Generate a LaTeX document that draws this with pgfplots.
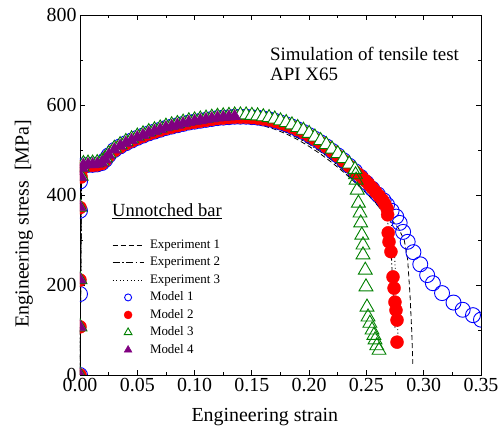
\documentclass[border=0pt]{standalone}
\usepackage{fontspec}
\setmainfont{Liberation Serif}
\usepackage{pgfplots}
\usepackage{pgfplotstable}
\pgfplotsset{compat=1.18}

\definecolor{mblue}{RGB}{0,0,255}
\definecolor{mred}{RGB}{255,0,0}
\definecolor{mgreen}{RGB}{0,128,0}
\definecolor{mpurple}{RGB}{128,0,128}

% shared hardening part of the four models (engineering stress, MPa)
\pgfplotstableread{
x     m1  m2  m3  m4
0.003 466 465 470 467
0.007 467 466 471 468
0.011 467 466 471 468
0.015 468 467 472 469
0.019 471 470 475 472
0.022 478 477 482 479
0.025 488 487 492 489
0.030 500 499 504 501
0.035 508 507 512 509
0.040 515 514 519 516
0.045 521 520 525 522
0.050 527 526 531 528
0.055 532 531 536 533
0.060 537 536 541 538
0.065 541 540 545 542
0.070 545 544 549 546
0.075 549 548 553 550
0.080 552 551 556 553
0.085 555 554 559 556
0.090 558 557 562 559
0.095 561 560 565 562
0.100 563 562 567 564
0.105 565 564 569 566
0.110 567 566 571 568
0.115 569 568 573 570
0.120 571 570 575 572
0.125 572 571 576 573
0.130 573 572 577 574
0.135 574 573 578 575
0.140 574 573 578 575
0.145 574 573 578 575
0.150 573 572 577 574
0.155 572 571 576 573
0.160 570 569 574 571
0.165 568 567 572 569
0.170 565 564 569 566
0.175 561 560 565 562
0.180 557 556 561 558
0.185 552 551 556 553
0.190 546 545 550 547
0.195 540 539 544 541
0.200 533 532 537 534
0.205 525 524 529 526
0.210 517 516 521 518
0.215 508 507 512 509
0.220 498 497 502 499
0.225 488 487 492 489
0.230 477 476 481 478
0.235 465 464 469 466
0.240 453 452 457 454
}\models

\begin{document}
\begin{tikzpicture}
\path[use as bounding box] (-80bp,-58bp) rectangle (423bp,375bp);
\begin{axis}[
    scale only axis,
    width=401bp, height=360bp,
    xmin=0, xmax=0.35, ymin=0, ymax=800,
    xtick={0,0.05,...,0.35}, ytick={0,200,...,800},
    minor x tick num=1, minor y tick num=1,
    xtick pos=both, ytick pos=both,
    tick align=inside,
    major tick length=5bp, minor tick length=3bp,
    axis line style={line width=0.9bp},
    every tick/.style={black, line width=0.8bp},
    /pgf/number format/assume math mode=true,
    ticklabel style={font=\rmfamily\fontsize{20}{22}\selectfont},
    xticklabel style={/pgf/number format/.cd, fixed, fixed zerofill, precision=2},
    yticklabel style={/pgf/number format/.cd, fixed},
    xlabel={Engineering strain},
    ylabel={Engineering stress\ \ [MPa]},
    label style={font=\rmfamily\fontsize{20}{22}\selectfont},
    xlabel style={at={(axis description cs:0.461,-0.128)}, anchor=base},
    ylabel style={at={(axis description cs:-0.1397,0.42)}, anchor=center},
    clip marker paths=true,
    legend image code/.code={\draw[mark repeat=2,mark phase=2,#1] plot coordinates {(0bp,0bp) (15.5bp,0bp) (31bp,0bp)};},
    legend style={at={(axis description cs:0.0798,0.3806)}, anchor=north west,
        draw=none, fill=none, inner sep=0pt, row sep=4bp,
        font=\rmfamily\fontsize{13}{14}\selectfont,
        nodes={inner sep=0.5bp, text height=9.5bp, text depth=3bp},
        /tikz/every odd column/.append style={column sep=5.5bp}},
    legend cell align=left,
]
\addlegendimage{black, line width=0.8bp, dash pattern=on 5bp off 3bp}
\addlegendentry{Experiment 1}
\addlegendimage{black, line width=0.8bp, dash pattern=on 7bp off 2.5bp on 1.5bp off 2.5bp}
\addlegendentry{Experiment 2}
\addlegendimage{black, line width=0.8bp, dash pattern=on 1bp off 2.6bp}
\addlegendentry{Experiment 3}
\addlegendimage{only marks, mark=o, mblue, mark size=3.5bp, mark options={line width=0.9bp}}
\addlegendentry{Model 1}
\addlegendimage{only marks, mark=*, mred, mark size=4bp, mark options={fill=mred, draw=mred}}
\addlegendentry{Model 2}
\addlegendimage{only marks, mark=triangle, mgreen, mark size=4.5bp, mark options={line width=0.9bp}}
\addlegendentry{Model 3}
\addlegendimage{only marks, mark=triangle*, mpurple, mark size=4.5bp, mark options={fill=mpurple, draw=mpurple}}
\addlegendentry{Model 4}

% experiments
\addplot[forget plot, black, line width=0.8bp, dash pattern=on 5bp off 3bp] coordinates {
(0,0) (0.0015,455) (0.003,452) (0.006,455) (0.010,458) (0.015,460) (0.020,463)
(0.025,478) (0.030,490) (0.040,505) (0.050,518) (0.060,529) (0.070,538) (0.080,545)
(0.090,551) (0.100,556) (0.110,560) (0.120,562) (0.130,563) (0.140,562) (0.150,559)
(0.160,554) (0.170,546) (0.180,536) (0.190,523) (0.200,508) (0.210,491) (0.220,472)
(0.230,451) (0.240,428) (0.250,404) (0.260,378) (0.270,351) (0.278,326) (0.283,300)
(0.286,256) (0.288,180) (0.2895,100) (0.2905,25)};
\addplot[forget plot, black, line width=0.8bp, dash pattern=on 7bp off 2.5bp on 1.5bp off 2.5bp] coordinates {
(0,0) (0.0015,458) (0.003,455) (0.006,457) (0.010,460) (0.015,462) (0.020,465)
(0.025,480) (0.030,492) (0.040,507) (0.050,520) (0.060,531) (0.070,540) (0.080,547)
(0.090,553) (0.100,558) (0.110,562) (0.120,564) (0.130,565) (0.140,564) (0.150,561)
(0.160,556) (0.170,549) (0.177,543) (0.180,539) (0.190,527) (0.200,513) (0.210,496)
(0.220,477) (0.2296,455) (0.240,430) (0.2557,389) (0.260,376) (0.265,360)
(0.268,345) (0.270,322) (0.2715,290) (0.2725,220) (0.274,150) (0.275,105)};
\addplot[forget plot, black, line width=0.8bp, dash pattern=on 1bp off 2.6bp] coordinates {
(0,0) (0.0015,460) (0.003,457) (0.006,459) (0.010,461) (0.015,463) (0.020,466)
(0.025,482) (0.030,494) (0.040,509) (0.050,521) (0.060,532) (0.070,541) (0.080,548)
(0.090,554) (0.100,559) (0.110,563) (0.120,565) (0.130,566) (0.140,566) (0.150,563)
(0.160,558) (0.170,551) (0.180,541) (0.190,529) (0.200,515) (0.210,498) (0.220,479)
(0.230,458) (0.240,435) (0.250,410) (0.260,383) (0.268,358) (0.272,332)
(0.274,292) (0.2755,220) (0.2765,150) (0.2775,90)};

% model 1
\addplot[forget plot, only marks, mark=o, mblue, mark size=7.5bp, mark options={line width=0.9bp}] coordinates {
(0,0) (0,180) (0,365) (0,430) (0.001,462)};
\addplot[forget plot, only marks, mark=o, mblue, mark size=7.5bp, mark options={line width=0.9bp}] table[x=x, y=m1] {\models};
\addplot[forget plot, only marks, mark=o, mblue, mark size=7.5bp, mark options={line width=0.9bp}] coordinates {
(0.245,440) (0.250,427) (0.255,414) (0.260,401) (0.265,388) (0.268,378) (0.272,365)
(0.276,352) (0.279,338) (0.282,318) (0.286,296) (0.291,273) (0.297,246) (0.303,222)
(0.308,204) (0.316,182) (0.326,161) (0.334,145) (0.343,133) (0.350,123)};

% model 2
\addplot[forget plot, only marks, mark=*, mred, mark size=6.5bp, mark options={fill=mred, draw=mred}] coordinates {
(0,0) (0,107) (0,211) (0,372) (0.001,440) (0.002,458)};
\addplot[forget plot, only marks, mark=*, mred, mark size=6.5bp, mark options={fill=mred, draw=mred}] table[x=x, y=m2] {\models};
\addplot[forget plot, only marks, mark=*, mred, mark size=6.5bp, mark options={fill=mred, draw=mred}] coordinates {
(0.243,446) (0.246,439) (0.249,432) (0.252,424) (0.255,416) (0.258,407) (0.261,398)
(0.264,389) (0.266,380) (0.268,370) (0.2685,356) (0.2690,316) (0.2697,296) (0.2714,274)
(0.2732,218) (0.2741,193) (0.2749,162) (0.2758,144) (0.2767,122) (0.2767,73)};

% model 3
\addplot[forget plot, only marks, mark=triangle*, mgreen, mark size=8bp, mark options={line width=0.9bp, fill=white, draw=mgreen}] coordinates {
(0,0) (0,107) (0,212) (0,373) (0.001,442) (0.002,462)};
\addplot[forget plot, only marks, mark=triangle*, mgreen, mark size=8bp, mark options={line width=0.9bp, fill=white, draw=mgreen}] table[x=x, y=m3] {\models};
\addplot[forget plot, only marks, mark=triangle, mgreen, mark size=8bp, mark options={line width=0.9bp}] coordinates {
(0.2405,445) (0.241,433) (0.242,411) (0.243,382) (0.2444,360) (0.245,338) (0.246,311)
(0.247,289) (0.247,267) (0.249,233) (0.2496,196) (0.2505,151) (0.2514,129) (0.253,115)
(0.2549,100) (0.2565,88) (0.2575,78) (0.259,65) (0.261,55)};

% model 4
\addplot[forget plot, only marks, mark=triangle*, mpurple, mark size=7bp, mark options={fill=mpurple, draw=mpurple}] coordinates {
(0,0) (0,107) (0,212) (0,373) (0.001,440) (0.002,460)};
\addplot[forget plot, only marks, mark=triangle*, mpurple, mark size=7bp, mark options={fill=mpurple, draw=mpurple}, restrict x to domain=0:0.136] table[x=x, y=m4] {\models};

\node[anchor=base west, inner sep=0pt, font=\rmfamily\fontsize{18.6}{20}\selectfont] at (axis description cs:0.0798,0.4389) {\underline{Unnotched bar}};
\node[anchor=base west, inner sep=0pt, font=\rmfamily\fontsize{19}{20}\selectfont] at (axis description cs:0.4738,0.875) {Simulation of tensile test};
\node[anchor=base west, inner sep=0pt, font=\rmfamily\fontsize{19}{20}\selectfont] at (axis description cs:0.4738,0.8194) {API X65};
\end{axis}
\end{tikzpicture}
\end{document}
